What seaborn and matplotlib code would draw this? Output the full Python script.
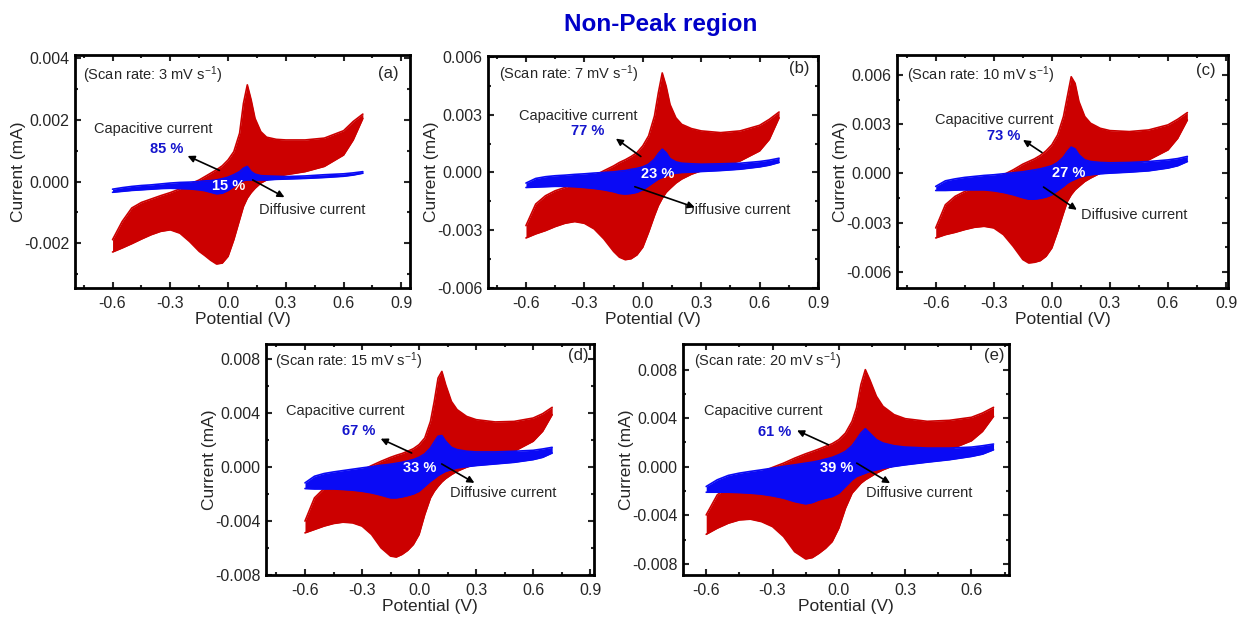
import numpy as np
import matplotlib
matplotlib.use("Agg")
import matplotlib.pyplot as plt
import seaborn as sns
from matplotlib.ticker import MultipleLocator, FuncFormatter

sns.set_style("ticks")
plt.rcParams['font.family'] = ['Liberation Sans', 'DejaVu Sans']
plt.rcParams['mathtext.default'] = 'regular'

# ---------------- data (potential in V, current in microampere) ----------------
E = [-0.60, -0.55, -0.50, -0.45, -0.40, -0.35, -0.30, -0.25, -0.20, -0.15,
     -0.12, -0.09, -0.06, -0.03, 0.00, 0.03, 0.06, 0.08, 0.10, 0.12,
     0.14, 0.17, 0.20, 0.25, 0.30, 0.40, 0.50, 0.60, 0.65, 0.70]

red_up_a = [-1.89, -1.30, -0.86, -0.68, -0.57, -0.46, -0.36, -0.24, -0.09, 0.05, 0.16, 0.27, 0.38, 0.51, 0.70,
            0.97, 1.57, 2.54, 3.14, 2.65, 2.05, 1.62, 1.44, 1.37, 1.35, 1.35, 1.41, 1.65, 1.95, 2.19]
red_dn_a = [-2.29, -2.16, -2.02, -1.87, -1.73, -1.62, -1.57, -1.68, -1.95, -2.27, -2.41, -2.56, -2.68, -2.65, -2.43,
            -1.89, -1.24, -0.81, -0.54, -0.36, -0.22, -0.05, 0.05, 0.16, 0.22, 0.32, 0.49, 0.86, 1.35, 2.05]
blue_up_a = [-0.25, -0.20, -0.16, -0.13, -0.11, -0.08, -0.05, -0.03, -0.02, 0.00, 0.02, 0.03, 0.05, 0.09, 0.14,
             0.22, 0.32, 0.43, 0.49, 0.32, 0.24, 0.19, 0.18, 0.17, 0.16, 0.18, 0.22, 0.25, 0.28, 0.32]
blue_dn_a = [-0.35, -0.32, -0.29, -0.27, -0.25, -0.23, -0.22, -0.23, -0.24, -0.27, -0.30, -0.35, -0.40, -0.38, -0.29,
             -0.16, -0.03, 0.03, 0.05, 0.05, 0.05, 0.05, 0.05, 0.07, 0.08, 0.10, 0.13, 0.17, 0.21, 0.27]

red_up_b = [-2.76, -1.64, -1.21, -0.95, -0.78, -0.60, -0.43, -0.17, 0.09, 0.34, 0.52, 0.66, 0.83, 1.03, 1.38,
            1.90, 2.93, 4.14, 5.17, 4.48, 3.53, 2.84, 2.50, 2.28, 2.16, 2.07, 2.16, 2.45, 2.76, 3.14]
red_dn_b = [-3.40, -3.19, -3.02, -2.81, -2.64, -2.55, -2.64, -2.93, -3.45, -4.10, -4.40, -4.53, -4.48, -4.28, -3.88,
            -3.10, -2.24, -1.72, -1.34, -1.03, -0.83, -0.55, -0.34, -0.09, 0.09, 0.34, 0.60, 1.12, 1.72, 2.84]
blue_up_b = [-0.55, -0.31, -0.22, -0.17, -0.14, -0.10, -0.07, -0.03, 0.00, 0.03, 0.07, 0.10, 0.16, 0.21, 0.29,
             0.43, 0.69, 0.98, 1.21, 1.03, 0.72, 0.55, 0.48, 0.45, 0.43, 0.45, 0.48, 0.57, 0.64, 0.74]
blue_dn_b = [-0.78, -0.76, -0.74, -0.72, -0.72, -0.74, -0.78, -0.83, -0.90, -1.00, -1.09, -1.12, -1.09, -1.03, -0.90,
             -0.69, -0.48, -0.34, -0.26, -0.17, -0.10, -0.03, 0.00, 0.02, 0.05, 0.10, 0.17, 0.29, 0.38, 0.52]

red_up_c = [-3.33, -1.91, -1.40, -1.10, -0.85, -0.63, -0.39, -0.08, 0.22, 0.57, 0.73, 0.89, 1.10, 1.38, 1.75,
            2.36, 3.48, 4.70, 5.91, 5.51, 4.39, 3.48, 3.07, 2.76, 2.62, 2.56, 2.66, 2.97, 3.31, 3.72]
red_dn_c = [-3.94, -3.74, -3.60, -3.43, -3.29, -3.23, -3.33, -3.74, -4.45, -5.26, -5.47, -5.43, -5.33, -5.06, -4.55,
            -3.54, -2.42, -1.71, -1.30, -1.00, -0.79, -0.49, -0.28, 0.02, 0.16, 0.47, 0.83, 1.44, 2.15, 3.27]
blue_up_c = [-0.79, -0.45, -0.33, -0.24, -0.18, -0.12, -0.08, -0.02, 0.04, 0.10, 0.16, 0.22, 0.28, 0.37, 0.47,
             0.67, 1.00, 1.34, 1.61, 1.50, 1.14, 0.83, 0.73, 0.67, 0.65, 0.67, 0.73, 0.83, 0.91, 1.04]
blue_dn_c = [-1.04, -1.04, -1.02, -1.00, -1.00, -1.00, -1.06, -1.16, -1.30, -1.48, -1.57, -1.57, -1.52, -1.44, -1.30,
             -1.04, -0.79, -0.59, -0.45, -0.35, -0.24, -0.14, -0.08, -0.02, 0.02, 0.08, 0.16, 0.33, 0.47, 0.73]

red_up_d = [-4.01, -2.29, -1.60, -1.18, -0.86, -0.57, -0.25, 0.10, 0.42, 0.71, 0.86, 0.99, 1.16, 1.35, 1.65,
            2.14, 3.37, 4.85, 6.58, 7.07, 6.08, 4.85, 4.24, 3.74, 3.50, 3.33, 3.37, 3.62, 3.94, 4.41]
red_dn_d = [-4.88, -4.63, -4.38, -4.19, -4.09, -4.14, -4.38, -5.00, -5.99, -6.60, -6.67, -6.48, -6.18, -5.74, -5.00,
            -3.52, -2.29, -1.80, -1.43, -1.11, -0.86, -0.57, -0.32, -0.02, 0.22, 0.67, 1.16, 1.90, 2.64, 3.87]
blue_up_d = [-1.18, -0.69, -0.49, -0.37, -0.27, -0.17, -0.07, 0.02, 0.12, 0.20, 0.27, 0.34, 0.44, 0.54, 0.71,
             0.96, 1.40, 1.85, 2.27, 2.32, 1.90, 1.45, 1.28, 1.16, 1.11, 1.11, 1.16, 1.23, 1.33, 1.45]
blue_dn_d = [-1.60, -1.63, -1.63, -1.63, -1.67, -1.72, -1.80, -1.92, -2.09, -2.29, -2.29, -2.22, -2.12, -2.00, -1.80,
             -1.43, -1.06, -0.86, -0.64, -0.47, -0.32, -0.20, -0.07, 0.02, 0.10, 0.22, 0.34, 0.54, 0.71, 1.03]

red_up_e = [-3.96, -2.31, -1.62, -1.15, -0.80, -0.44, -0.05, 0.30, 0.71, 1.07, 1.26, 1.46, 1.68, 1.90, 2.23,
            2.77, 3.74, 4.84, 6.76, 7.99, 7.17, 5.80, 4.97, 4.29, 3.96, 3.74, 3.82, 4.07, 4.42, 4.89]
red_dn_e = [-5.55, -5.05, -4.64, -4.37, -4.31, -4.51, -4.92, -5.74, -6.98, -7.58, -7.47, -7.12, -6.70, -6.15, -5.05,
            -3.41, -2.17, -1.76, -1.35, -1.07, -0.85, -0.52, -0.25, 0.11, 0.44, 0.93, 1.40, 2.14, 2.91, 4.15]
blue_up_e = [-1.62, -1.07, -0.71, -0.52, -0.38, -0.25, -0.11, 0.03, 0.16, 0.30, 0.38, 0.49, 0.63, 0.77, 0.99,
             1.26, 1.73, 2.23, 2.77, 3.13, 2.77, 2.23, 1.95, 1.73, 1.62, 1.54, 1.54, 1.62, 1.73, 1.87]
blue_dn_e = [-2.09, -2.09, -2.09, -2.12, -2.17, -2.25, -2.39, -2.58, -2.86, -3.05, -2.94, -2.72, -2.58, -2.45, -2.17,
             -1.62, -1.07, -0.80, -0.66, -0.52, -0.38, -0.25, -0.11, 0.03, 0.16, 0.38, 0.58, 0.85, 1.04, 1.40]

panel_letters = ['a', 'b', 'c', 'd', 'e']
scan_rates = ['3', '7', '10', '15', '20']
capacitive_pct = ['85 %', '77 %', '73 %', '67 %', '61 %']
diffusive_pct = ['15 %', '23 %', '27 %', '33 %', '39 %']
red_up = [red_up_a, red_up_b, red_up_c, red_up_d, red_up_e]
red_dn = [red_dn_a, red_dn_b, red_dn_c, red_dn_d, red_dn_e]
blue_up = [blue_up_a, blue_up_b, blue_up_c, blue_up_d, blue_up_e]
blue_dn = [blue_dn_a, blue_dn_b, blue_dn_c, blue_dn_d, blue_dn_e]

# ---------------- layout (pixels of a 1239x619 canvas) ----------------
W, H = 1239, 619
rects_px = [(75, 55, 410, 288), (488, 56, 818, 288), (897, 55, 1228, 288),
            (266, 344, 594, 575), (683, 344, 1009, 575)]
xlims = [(-0.795, 0.945), (-0.795, 0.9), (-0.8, 0.91), (-0.805, 0.92), (-0.705, 0.77)]
ylims = [(-3.46, 4.11), (-6.0, 6.05), (-7.0, 7.24), (-8.0, 9.1), (-8.9, 10.1)]
ysteps = [2, 3, 3, 4, 4]
xmax_tick = [0.9, 0.9, 0.9, 0.9, 0.6]
# annotation anchors (V, microampere)
cap_txt = [(-0.39, 1.70), (-0.331, 2.93), (-0.30, 3.27), (-0.389, 4.11), (-0.344, 4.56)]
cap_pct = [(-0.32, 1.05), (-0.284, 2.16), (-0.249, 2.30), (-0.319, 2.64), (-0.290, 2.86)]
arr1 = [((-0.045, 0.36), (-0.21, 0.83)), ((-0.010, 0.83), (-0.138, 1.76)), ((-0.051, 1.28), (-0.149, 2.05)),
        ((-0.039, 1.03), (-0.202, 2.09)), ((-0.047, 1.81), (-0.189, 2.99))]
dif_pct = [(0.003, -0.13), (0.076, -0.09), (0.089, 0.02), (0.005, -0.07), (-0.009, -0.11)]
arr2 = [((0.128, 0.05), (0.293, -0.51)), ((-0.041, -0.74), (0.267, -1.81)), ((-0.043, -0.83), (0.129, -2.22)),
        ((0.119, 0.22), (0.291, -1.18)), ((0.081, 0.30), (0.232, -1.35))]
dif_txt = [(0.435, -0.94), (0.486, -1.93), (0.424, -2.52), (0.440, -1.92), (0.364, -2.12)]
scan_pos = [(-0.756, 3.46), (-0.737, 5.09), (-0.746, 6.02), (-0.758, 7.86), (-0.656, 8.68)]
let_pos = [(0.83, 3.51), (0.806, 5.38), (0.797, 6.32), (0.839, 8.25), (0.705, 9.18)]

RED = '#CC0000'
BLUE = '#0A0AF5'
PCT_BLUE = '#1414CC'
uA = 1e-3  # microampere -> milliampere

fig = plt.figure(figsize=(W / 100, H / 100), dpi=100)
fig.text(661 / W, 1 - 25 / H, 'Non-Peak region', ha='center', va='center',
         fontsize=17.5, fontweight='bold', color='#0000C8')

Ev = np.array(E)
for i in range(5):
    l, t, r, b = rects_px[i]
    ax = fig.add_axes([l / W, 1 - b / H, (r - l) / W, (b - t) / H])
    ru = np.array(red_up[i]) * uA
    rd = np.array(red_dn[i]) * uA
    bu = np.array(blue_up[i]) * uA
    bd = np.array(blue_dn[i]) * uA

    ax.fill_between(Ev, rd, ru, color=RED, lw=0, zorder=2)
    for arr in (ru, rd):
        sns.lineplot(x=Ev, y=arr, ax=ax, color=RED, lw=1.2, sort=False, estimator=None, zorder=2,
                     solid_joinstyle='round')
    ax.fill_between(Ev, bd, bu, color=BLUE, lw=0, zorder=3)
    for arr in (bu, bd):
        sns.lineplot(x=Ev, y=arr, ax=ax, color=BLUE, lw=1.2, sort=False, estimator=None, zorder=3,
                     solid_joinstyle='round')

    ax.set_xlim(*xlims[i])
    ax.set_ylim(ylims[i][0] * uA, ylims[i][1] * uA)
    ax.set_xticks(np.round(np.arange(-0.6, xmax_tick[i] + 0.01, 0.3), 2))
    ax.xaxis.set_minor_locator(MultipleLocator(0.15))
    ys = ysteps[i] * uA
    ax.yaxis.set_major_locator(MultipleLocator(ys))
    ax.yaxis.set_minor_locator(MultipleLocator(ys / 2))
    ax.xaxis.set_major_formatter(FuncFormatter(lambda v, p: '{:.1f}'.format(round(v, 2) + 0.0)))
    ax.yaxis.set_major_formatter(FuncFormatter(lambda v, p: '{:.3f}'.format(round(v, 5) + 0.0)))
    ax.tick_params(which='both', direction='in', top=True, right=True, width=1.5, labelsize=11.5)
    ax.tick_params(axis='x', which='major', length=4, pad=5.5)
    ax.tick_params(axis='y', which='major', length=4, pad=4)
    ax.tick_params(which='minor', length=2.5)
    for sp in ax.spines.values():
        sp.set_linewidth(2)
        sp.set_color('black')
    ax.set_xlabel('Potential (V)', fontsize=12.5, labelpad=1)
    ax.set_ylabel('Current (mA)', fontsize=12.5, labelpad=-1.5)

    def P(pt):
        return (pt[0], pt[1] * uA)

    ax.text(*P(cap_txt[i]), 'Capacitive current', ha='center', va='center', fontsize=10.5, zorder=5)
    ax.text(*P(cap_pct[i]), capacitive_pct[i], ha='center', va='center', fontsize=10.5,
            fontweight='bold', color=PCT_BLUE, zorder=5)
    ax.text(*P(dif_pct[i]), diffusive_pct[i], ha='center', va='center', fontsize=10.5,
            fontweight='bold', color='white', zorder=5)
    ax.text(*P(dif_txt[i]), 'Diffusive current', ha='center', va='center', fontsize=10.5, zorder=5)
    for (tail, head) in (arr1[i], arr2[i]):
        ax.annotate('', xy=P(head), xytext=P(tail),
                    arrowprops=dict(arrowstyle='-|>', color='black', lw=1.2,
                                    mutation_scale=10, shrinkA=0, shrinkB=0), zorder=6)
    ax.text(*P(scan_pos[i]), '(Scan rate: %s mV s$^{-1}$)' % scan_rates[i], ha='left', va='center',
            fontsize=10.5, zorder=5)
    ax.text(*P(let_pos[i]), '(%s)' % panel_letters[i], ha='center', va='center', fontsize=12, zorder=5)

fig.savefig('out.png', dpi=100)
